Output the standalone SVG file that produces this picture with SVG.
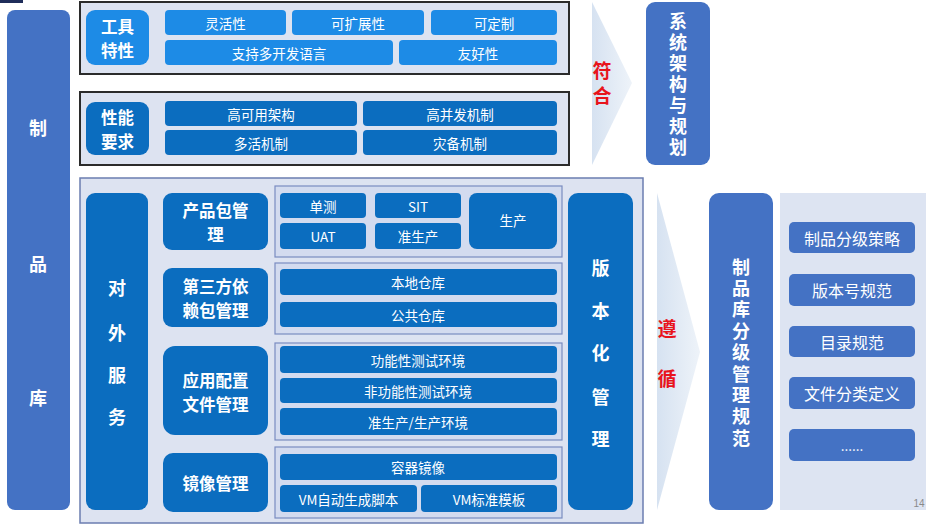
<svg xmlns="http://www.w3.org/2000/svg" width="936" height="527" viewBox="0 0 936 527">
<defs>
<linearGradient id="arr" x1="0" y1="0" x2="1" y2="0">
<stop offset="0" stop-color="#d6e2f1"/>
<stop offset="1" stop-color="#eef3f9"/>
</linearGradient>
<style>
text{font-family:"Noto Sans CJK SC","Noto Sans",sans-serif;fill:#fff;text-anchor:middle;dominant-baseline:central}
.frame{fill:#dde3f1;stroke:#2b2b2b;stroke-width:2}
.frame2{fill:#dde3f1;stroke:#6b7db0;stroke-width:1.5}
.sub{fill:#d3dbef;stroke:#7a8cc0;stroke-width:1.2}
.b1{fill:#1d8be6}
.b2{fill:#0b6dbf}
.b3{fill:#4472c4}
.it{font-size:13.5px}
.hd{font-size:16.5px;font-weight:bold}
.vt{font-size:18px;font-weight:bold}
.vv{writing-mode:vertical-rl;font-size:18px;font-weight:bold}
.red{fill:#e8141c;font-size:19px;font-weight:bold}
.rt{font-size:16px}
</style>
</defs>
<rect width="936" height="527" fill="#ffffff"/>
<rect x="0" y="0" width="23" height="3" fill="#1f2d5a"/>

<g id="zhipinku">
<rect x="7" y="10" width="63" height="500" rx="8" class="b3"/>
<text x="38" y="127" class="vt" font-size="20">制</text>
<text x="38" y="263" class="vt" font-size="20">品</text>
<text x="38" y="397" class="vt" font-size="20">库</text>
</g>

<g id="gongju">
<rect x="80" y="2" width="489" height="72" class="frame"/>
<rect x="86" y="10" width="63" height="55" rx="9" class="b1"/>
<text x="117.5" y="25.5" class="hd"><tspan x="117.5" y="25.5">工具</tspan><tspan x="117.5" y="49.5">特性</tspan></text>
<rect x="165" y="10" width="121" height="25" rx="4" class="b1"/>
<text x="225.5" y="22.5" class="it">灵活性</text>
<rect x="292" y="10" width="132" height="25" rx="4" class="b1"/>
<text x="358" y="22.5" class="it">可扩展性</text>
<rect x="431" y="10" width="126" height="25" rx="4" class="b1"/>
<text x="494" y="22.5" class="it">可定制</text>
<rect x="165" y="40" width="228" height="25" rx="4" class="b1"/>
<text x="279" y="52.5" class="it">支持多开发语言</text>
<rect x="399" y="40" width="158" height="25" rx="4" class="b1"/>
<text x="478" y="52.5" class="it">友好性</text>
</g>

<g id="xingneng">
<rect x="80" y="92" width="489" height="73" class="frame"/>
<rect x="86" y="102" width="63" height="53" rx="9" class="b2"/>
<text x="117.5" y="116.5" class="hd"><tspan x="117.5" y="116.5">性能</tspan><tspan x="117.5" y="140.5">要求</tspan></text>
<rect x="165" y="101" width="192" height="25" rx="4" class="b2"/>
<text x="261" y="113.5" class="it">高可用架构</text>
<rect x="363" y="101" width="194" height="25" rx="4" class="b2"/>
<text x="460" y="113.5" class="it">高并发机制</text>
<rect x="165" y="130" width="192" height="25" rx="4" class="b2"/>
<text x="261" y="142.5" class="it">多活机制</text>
<rect x="363" y="130" width="194" height="25" rx="4" class="b2"/>
<text x="460" y="142.5" class="it">灾备机制</text>
</g>

<g id="connectors">
<polygon points="592,2 632,83 592,165" fill="url(#arr)"/>
<polygon points="657,193 700,352 657,510" fill="url(#arr)"/>
</g>
<g id="fuhe">
<text x="602" y="86" class="red" style="writing-mode:vertical-rl;letter-spacing:6px">符合</text>
</g>
<g id="zunxun">
<text x="667" y="327" class="red">遵</text>
<text x="667" y="377" class="red">循</text>
</g>

<g id="xitong">
<rect x="646" y="2" width="64" height="163" rx="9" class="b3"/>
<text x="678" y="86" class="vv" style="letter-spacing:3px">系统架构与规划</text>
</g>

<g id="lower">
<rect x="80" y="178" width="563" height="345" class="frame2"/>
</g>

<g id="duiwai">
<rect x="86" y="193" width="62" height="317" rx="9" class="b2"/>
<text x="117" y="287" class="vt">对</text>
<text x="117" y="332" class="vt">外</text>
<text x="117" y="374" class="vt">服</text>
<text x="117" y="416" class="vt">务</text>
</g>

<g id="chanpin">
<rect x="163" y="193" width="105" height="57" rx="9" class="b2"/>
<text x="215.5" y="210" class="hd"><tspan x="215.5" y="210">产品包管</tspan><tspan x="215.5" y="234">理</tspan></text>
<rect x="275" y="186" width="287" height="71" class="sub"/>
<rect x="280" y="193" width="86" height="25" rx="4" class="b2"/>
<text x="323" y="205.5" class="it">单测</text>
<rect x="280" y="223" width="86" height="26" rx="4" class="b2"/>
<text x="323" y="236" class="it">UAT</text>
<rect x="375" y="193" width="86" height="25" rx="4" class="b2"/>
<text x="418" y="205.5" class="it">SIT</text>
<rect x="375" y="223" width="86" height="26" rx="4" class="b2"/>
<text x="418" y="236" class="it">准生产</text>
<rect x="469" y="193" width="88" height="56" rx="8" class="b2"/>
<text x="513" y="220" class="it">生产</text>
</g>

<g id="disanfang">
<rect x="163" y="268" width="105" height="59" rx="9" class="b2"/>
<text x="215.5" y="286" class="hd"><tspan x="215.5" y="286">第三方依</tspan><tspan x="215.5" y="310">赖包管理</tspan></text>
<rect x="275" y="263" width="287" height="71" class="sub"/>
<rect x="280" y="269" width="277" height="26" rx="4" class="b2"/>
<text x="418" y="282" class="it">本地仓库</text>
<rect x="280" y="302" width="277" height="25" rx="4" class="b2"/>
<text x="418" y="314.5" class="it">公共仓库</text>
</g>

<g id="yingyong">
<rect x="163" y="346" width="105" height="89" rx="12" class="b2"/>
<text x="215.5" y="379.5" class="hd"><tspan x="215.5" y="379.5">应用配置</tspan><tspan x="215.5" y="403.5">文件管理</tspan></text>
<rect x="275" y="343" width="287" height="97" class="sub"/>
<rect x="280" y="346" width="277" height="27" rx="4" class="b2"/>
<text x="418" y="359.5" class="it">功能性测试环境</text>
<rect x="280" y="378" width="277" height="25" rx="4" class="b2"/>
<text x="418" y="390.5" class="it">非功能性测试环境</text>
<rect x="280" y="408" width="277" height="27" rx="4" class="b2"/>
<text x="418" y="421.5" class="it">准生产/生产环境</text>
</g>

<g id="jingxiang">
<rect x="163" y="453" width="105" height="59" rx="10" class="b2"/>
<text x="215.5" y="483" class="hd">镜像管理</text>
<rect x="275" y="447" width="287" height="71" class="sub"/>
<rect x="280" y="454" width="277" height="26" rx="4" class="b2"/>
<text x="418" y="467" class="it">容器镜像</text>
<rect x="280" y="485" width="137" height="27" rx="4" class="b2"/>
<text x="348.5" y="498.5" class="it">VM自动生成脚本</text>
<rect x="421" y="485" width="136" height="27" rx="4" class="b2"/>
<text x="489" y="498.5" class="it">VM标准模板</text>
</g>

<g id="banben">
<rect x="568" y="193" width="65" height="317" rx="10" class="b2"/>
<text x="600.5" y="267" class="vt">版</text>
<text x="600.5" y="310" class="vt">本</text>
<text x="600.5" y="352" class="vt">化</text>
<text x="600.5" y="396" class="vt">管</text>
<text x="600.5" y="438" class="vt">理</text>
</g>

<g id="guifan">
<rect x="709" y="193" width="64" height="317" rx="10" class="b3"/>
<text x="741" y="354" class="vv" style="letter-spacing:3.4px">制品库分级管理规范</text>
</g>

<g id="guifan-items">
<rect x="780" y="193" width="146" height="317" fill="#dde4f2"/>
<rect x="789" y="222" width="126" height="31" rx="5" class="b3"/>
<text x="852" y="237.5" class="rt">制品分级策略</text>
<rect x="789" y="274" width="126" height="32" rx="5" class="b3"/>
<text x="852" y="290" class="rt">版本号规范</text>
<rect x="789" y="326" width="126" height="31" rx="5" class="b3"/>
<text x="852" y="341.5" class="rt">目录规范</text>
<rect x="789" y="377" width="126" height="32" rx="5" class="b3"/>
<text x="852" y="393" class="rt">文件分类定义</text>
<rect x="789" y="429" width="126" height="32" rx="5" class="b3"/>
<text x="852" y="445" class="it">......</text>
</g>

<text x="919" y="503" style="font-family:'Liberation Sans',sans-serif;font-size:10px;fill:#8a8a8a">14</text>
</svg>
